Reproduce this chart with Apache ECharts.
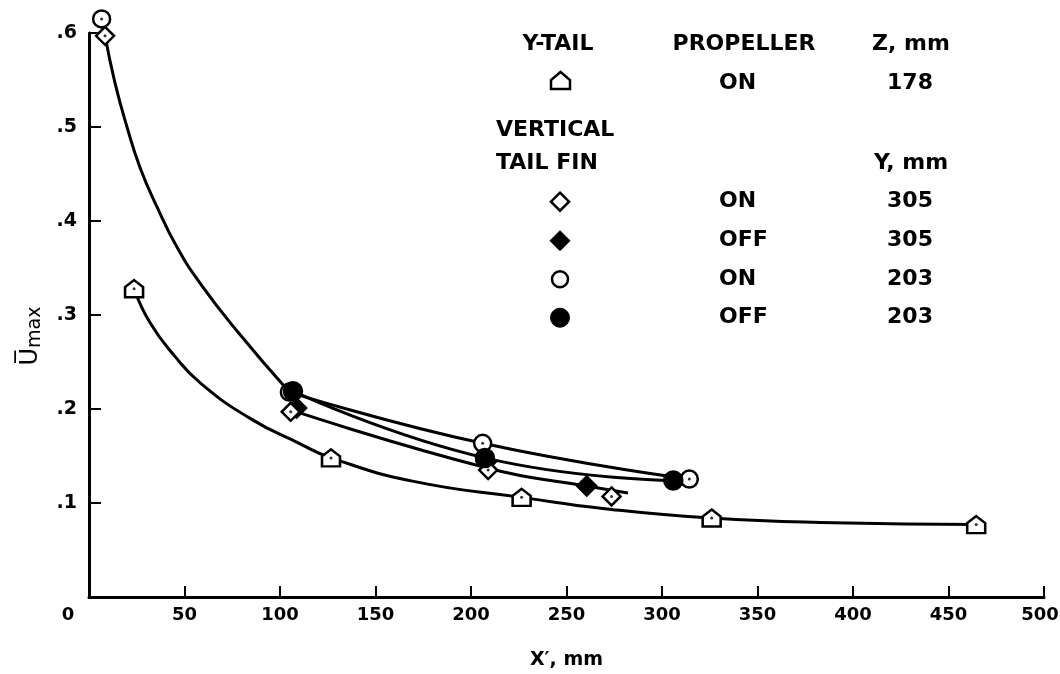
<!DOCTYPE html>
<html>
<head>
<meta charset="utf-8">
<script src="https://cdn.jsdelivr.net/npm/echarts@6/dist/echarts.min.js"></script>
<style>
  html, body { margin: 0; padding: 0; background: #fff; }
  #chart { width: 1060px; height: 674px; }
</style>
</head>
<body>
<div id="chart"></div>
<script>
(function () {
    'use strict';

    // axis ticks
    var xTicks = [0, 50, 100, 150, 200, 250, 300, 350, 400, 450, 500];
    var yTicks = [0, 0.1, 0.2, 0.3, 0.4, 0.5, 0.6];

    // measured points [X', Umax]
    var yTailOn178 = [[23.6, 0.328], [126.7, 0.148], [226.5, 0.106], [326, 0.084], [464.5, 0.077]];
    var finOn305 = [[8.4, 0.597], [105.6, 0.197], [209, 0.135], [273.6, 0.107]];
    var finOff305 = [[108.7, 0.201], [208, 0.144], [260.6, 0.118]];
    var finOn203 = [[6.6, 0.615], [104.9, 0.218], [206.1, 0.1635], [314.3, 0.1255]];
    var finOff203 = [[106.8, 0.219], [207.3, 0.148], [305.9, 0.124]];

    // faired curves
    var curveYTail = [[23.6, 0.328], [31.9, 0.292], [45, 0.256], [58.1, 0.228], [84.3, 0.19],
        [110.5, 0.163], [126.7, 0.148], [170, 0.123], [226.5, 0.106], [270, 0.094], [326, 0.084],
        [390, 0.079], [464.5, 0.077]];
    var curveTop = [[8.4, 0.597], [13.6, 0.547], [19.9, 0.5], [26.7, 0.457],
        [35.6, 0.415], [46.1, 0.372], [58.1, 0.334], [77.5, 0.283], [104.9, 0.218]];
    var curveOn203 = [[104.9, 0.218], [206.1, 0.1635], [314.3, 0.1255]];
    var curveOff203 = [[106.8, 0.219], [207.3, 0.148], [305.9, 0.124]];
    var curve305 = [[105.6, 0.199], [209, 0.137], [260.6, 0.118], [282.2, 0.1106]];

    // legend table text
    var legendHead = ['Y-TAIL', 'PROPELLER', 'Z, mm'];
    var legendYTail = ['ON', '178'];
    var legendFinHead = ['VERTICAL', 'TAIL FIN', 'Y, mm'];
    var legendFinRows = [['ON', '305'], ['OFF', '305'], ['ON', '203'], ['OFF', '203']];

    var FONT = '"DejaVu Sans", Arial, sans-serif';
    var LFONT = 'bold 22px ' + FONT;

    function curve(data) {
        return {
            type: 'line', data: data, smooth: 0.5, symbol: 'none', silent: true, z: 1,
            lineStyle: { color: '#000', width: 3 }
        };
    }

    function marks(data, symbol, size, fill, z) {
        return {
            type: 'scatter', data: data, symbol: symbol, symbolSize: size, clip: false, silent: true, z: z,
            itemStyle: { color: fill, borderColor: '#000', borderWidth: 2.5, opacity: 1 }
        };
    }

    function txt(s, x, y, align) {
        return {
            type: 'text', x: x, y: y, silent: true,
            style: { text: s, font: LFONT, fill: '#000', align: align || 'center', verticalAlign: 'middle' }
        };
    }

    var open = { fill: '#fff', stroke: '#000', lineWidth: 2.5 };
    var solid = { fill: '#000', stroke: '#000', lineWidth: 1 };
    var rowY = [201.7, 240.7, 279.3, 317.7];

    var legend = [
        txt(legendHead[0], 558, 44), txt(legendHead[1], 744, 44), txt(legendHead[2], 911, 44),
        { type: 'polygon', silent: true, shape: { points: [[551, 89], [551, 80], [560.5, 72], [570, 80], [570, 89]] }, style: open },
        txt(legendYTail[0], 719, 83, 'left'), txt(legendYTail[1], 910, 83),
        txt(legendFinHead[0], 496, 130, 'left'), txt(legendFinHead[1], 496, 163, 'left'), txt(legendFinHead[2], 911, 163),
        { type: 'polygon', silent: true, shape: { points: [[560, rowY[0] - 9], [569, rowY[0]], [560, rowY[0] + 9], [551, rowY[0]]] }, style: open },
        { type: 'polygon', silent: true, shape: { points: [[560, rowY[1] - 10], [570, rowY[1]], [560, rowY[1] + 10], [550, rowY[1]]] }, style: solid },
        { type: 'circle', silent: true, shape: { cx: 560, cy: rowY[2], r: 8 }, style: open },
        { type: 'circle', silent: true, shape: { cx: 560, cy: rowY[3], r: 9.5 }, style: solid }
    ];
    legendFinRows.forEach(function (r, i) {
        legend.push(txt(r[0], 719, rowY[i], 'left'));
        legend.push(txt(r[1], 910, rowY[i]));
    });

    var labelStyle = { color: '#000', fontSize: 18, fontWeight: 'bold', fontFamily: FONT };

    var option = {
        animation: false,
        backgroundColor: '#fff',
        grid: { left: 89, right: 16, top: 33, bottom: 77, outerBoundsMode: 'none', containLabel: false },
        xAxis: {
            type: 'value', min: xTicks[0], max: xTicks[xTicks.length - 1], interval: 50,
            name: 'X\u2032, mm', nameLocation: 'middle', nameGap: 54,
            nameTextStyle: { color: '#000', fontSize: 19, fontWeight: 'bold', fontFamily: FONT },
            axisLine: { onZero: false, lineStyle: { color: '#000', width: 3 } },
            axisTick: { inside: true, length: 11, lineStyle: { color: '#000', width: 2 } },
            splitLine: { show: false },
            axisLabel: Object.assign({}, labelStyle, {
                margin: 9,
                formatter: function (v) {
                    if (v === 0) { return '{z|0}'; }
                    if (v === 500) { return '{e|500}'; }
                    return String(v);
                },
                rich: {
                    z: Object.assign({}, labelStyle, { padding: [0, 42, 0, 0] }),
                    e: Object.assign({}, labelStyle, { padding: [0, 8, 0, 0] })
                }
            })
        },
        yAxis: {
            type: 'value', min: yTicks[0], max: yTicks[yTicks.length - 1], interval: 0.1,
            name: '{u|U\u0305}{s|max}', nameLocation: 'middle', nameGap: 44, nameRotate: 90,
            nameTextStyle: {
                color: '#000', fontFamily: FONT, padding: [0, 42, 0, 0],
                rich: {
                    u: { fontSize: 24, fontFamily: FONT, color: '#000', lineHeight: 26, verticalAlign: 'top' },
                    s: { fontSize: 19, fontFamily: FONT, color: '#000', lineHeight: 20, verticalAlign: 'bottom' }
                }
            },
            axisLine: { lineStyle: { color: '#000', width: 3 } },
            axisTick: { inside: true, length: 12, lineStyle: { color: '#000', width: 2 } },
            splitLine: { show: false },
            axisLabel: Object.assign({}, labelStyle, {
                fontSize: 19,
                margin: 12,
                formatter: function (v) { return v === 0 ? '' : '.' + Math.round(v * 10); }
            })
        },
        graphic: { elements: legend },
        series: [
            curve(curveYTail), curve(curveTop), curve(curveOn203), curve(curveOff203), curve(curve305),
            marks(finOff305, 'diamond', 19, '#000', 3),
            marks(finOn305, 'diamond', 18, '#fff', 4),
            marks(yTailOn178, 'path://M9,0 L18,7 L18,17 L0,17 L0,7 Z', [18, 17], '#fff', 4),
            marks(finOn203, 'circle', 17, '#fff', 5),
            marks(finOff203, 'circle', 18, '#000', 6),
            {
                type: 'scatter', symbol: 'circle', symbolSize: 3, clip: false, silent: true, z: 7,
                data: yTailOn178.concat(finOn305, finOn203.filter(function (p) { return p[0] !== 104.9; })),
                itemStyle: { color: '#000' }
            }
        ]
    };

    var chart = echarts.init(document.getElementById('chart'), null, { renderer: 'canvas' });
    chart.setOption(option);
    window.onresize = function () { chart.resize(); };
})();
</script>
</body>
</html>
